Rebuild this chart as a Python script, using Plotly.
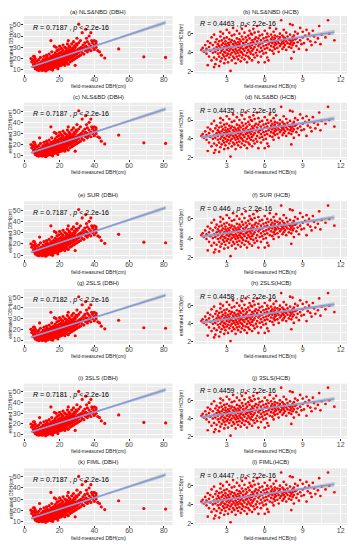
import plotly.graph_objects as go

# ---------------- data ----------------
panel_titles = ["(a) NLS&amp;NBD (DBH)", "(b) NLS&amp;NBD (HCB)",
                "(c) NLS&amp;BD (DBH)", "(d) NLS&amp;BD (HCB)",
                "(e) SUR (DBH)", "(f) SUR (HCB)",
                "(g) 2SLS (DBH)", "(h) 2SLS(HCB)",
                "(i) 3SLS (DBH)", "(j) 3SLS(HCB)",
                "(k) FIML (DBH)", "(l) FIML(HCB)"]
r_values = ["0.7187", "0.4463", "0.7187", "0.4435", "0.7187", "0.446",
            "0.7182", "0.4458", "0.7181", "0.4459", "0.7187", "0.4447"]
p_text = "2.2e-16"

dbh_points = [
    (4, 17), (4.5, 19), (5, 13), (5, 15), (5.5, 22), (5.5, 18), (6, 11), (6, 14), (6, 16), (6.5, 12), (6, 20),
    (3.5, 20), (5, 22),
    (7, 10), (7, 13), (7.5, 15), (7, 18), (8, 11), (8, 12.5), (8, 14), (8, 16), (8.5, 26), (8, 19), (9, 10),
    (9, 12), (9, 13.5), (9, 15), (9.5, 17), (9, 21), (9.5, 11), (8, 9.5),
    (10, 9.5), (10, 11), (10, 12.5), (10, 14), (10.5, 15.5), (10, 17), (10.5, 19), (11, 10), (11, 12), (11, 13),
    (11.5, 14.5), (11, 16), (11.5, 18), (11, 22), (12, 10.5), (12, 11.5), (12, 13), (12, 14), (12.5, 15),
    (12, 16.5), (12.5, 18), (12, 20), (12.5, 23), (12, 9),
    (13, 10), (13, 12), (13, 13.5), (13, 15), (13.5, 16), (13, 17.5), (13.5, 19), (13, 21), (14, 11), (14, 12.5),
    (14, 14), (14, 15), (14.5, 16.5), (14, 18), (14.5, 20), (14, 24), (15, 10.5), (15, 12), (15, 13.5), (15, 15),
    (15, 16), (15.5, 17), (15, 18.5), (15.5, 20), (15, 22), (15, 36), (15.5, 26), (13.5, 11), (14.5, 13),
    (16, 11), (16, 13), (16, 14.5), (16, 16), (16.5, 17), (16, 18), (16.5, 19.5), (16, 21), (16.5, 23), (17, 12),
    (17, 14), (17, 15.5), (17, 17), (17.5, 18), (17, 19), (17.5, 20.5), (17, 22), (17, 31), (17.5, 25), (18, 12.5),
    (18, 14), (18, 15.5), (18, 17), (18.5, 18), (18, 19.5), (18.5, 21), (18, 23), (18.5, 27), (18, 30), (16, 9.8),
    (16.5, 12), (17.5, 13), (18.5, 16),
    (19, 13), (19, 15), (19, 16.5), (19, 18), (19.5, 19), (19, 20.5), (19.5, 22), (19, 24), (19.5, 28), (20, 13.5),
    (20, 15), (20, 17), (20, 18.5), (20.5, 20), (20, 21), (20.5, 22.5), (20, 25), (20, 31), (21, 14), (21, 16),
    (21, 17.5), (21, 19), (21.5, 20.5), (21, 22), (21.5, 24), (21, 26), (21, 29), (19, 11), (20.5, 16), (21.5, 18),
    (22, 15), (22, 17), (22, 18.5), (22, 20), (22.5, 21.5), (22, 23), (22.5, 25), (22, 27.5), (22, 32), (23, 14),
    (23, 16.5), (23, 19), (23, 21), (23.5, 22.5), (23, 24), (23.5, 26), (23, 30), (24, 16), (24, 18), (24, 20),
    (24.5, 22), (24, 23.5), (24.5, 25), (24, 27), (24, 29), (24.5, 33), (22.5, 19.5), (23.5, 18),
    (25, 15), (25, 19), (25, 21), (25, 23), (25.5, 24.5), (25, 26), (25.5, 28), (25, 36), (25.5, 31), (26, 17),
    (26, 20), (26, 22), (26.5, 24), (26, 25.5), (26.5, 27), (26, 30), (27, 18), (27, 21), (27, 23.5), (27.5, 25),
    (27, 27), (27.5, 29), (27, 33),
    (28, 19), (28, 22), (28, 24), (28.5, 26), (28, 28), (28.5, 31), (28, 35), (29, 14), (29, 20), (29, 23),
    (29.5, 25), (29, 27), (29, 30), (29.5, 33), (30, 21), (30, 24), (30, 26), (30.5, 28), (30, 32), (30, 38),
    (31, 50.5), (31, 22), (31, 25.5), (31.5, 29), (31, 34),
    (32, 23), (32, 27), (32.5, 30), (32, 36), (33, 25), (33, 28), (33.5, 32), (33, 43), (34, 24), (34, 29),
    (34.5, 34), (35, 27), (35, 31), (35, 46), (35.5, 38), (36, 26), (36, 30), (36, 35), (36.5, 28),
    (37, 29), (37, 33), (37, 40), (38, 27), (38, 31), (38, 43), (38.5, 36), (39, 30), (39, 34), (40, 28),
    (40, 32), (40, 36), (41, 30), (41, 35), (41, 33),
    (42, 27), (43, 26), (44, 23), (46, 20.5), (54, 28.5), (68.5, 21.5), (81, 21),
]

hcb_points = [
    (1.0, 4.3), (1.1, 4.5), (1.2, 4.1), (1.3, 4.8), (1.4, 3.9), (1.5, 2.7), (1.5, 5.2), (1.4, 4.4),
    (1.6, 3.6), (1.6, 4.6), (1.7, 5.0), (1.7, 4.2), (1.8, 3.2), (1.8, 5.6), (1.9, 4.0), (1.9, 4.8), (2.0, 2.5),
    (2.0, 3.5), (2.0, 4.4), (2.0, 5.9),
    (2.1, 2.8), (2.1, 4.1), (2.1, 5.1), (2.2, 3.3), (2.2, 4.6), (2.2, 5.4), (2.3, 3.9), (2.3, 4.3), (2.3, 4.9),
    (2.4, 2.6), (2.4, 3.6), (2.4, 4.7), (2.4, 5.2), (2.5, 3.1), (2.5, 4.0), (2.5, 4.5), (2.5, 5.7), (2.5, 6.2),
    (2.6, 3.4), (2.6, 4.2), (2.6, 4.8), (2.6, 5.3), (2.7, 3.8), (2.7, 4.4), (2.7, 5.0), (2.7, 6.0), (2.8, 2.9),
    (2.8, 3.6), (2.8, 4.1), (2.8, 4.6), (2.8, 5.5), (2.9, 3.3), (2.9, 4.0), (2.9, 4.9), (2.9, 5.2), (3.0, 3.7),
    (3.0, 4.3), (3.0, 4.7), (3.0, 5.6), (3.0, 6.4),
    (3.1, 3.0), (3.1, 3.9), (3.1, 4.5), (3.1, 5.0), (3.2, 3.5), (3.2, 4.2), (3.2, 4.8), (3.2, 5.4), (3.2, 6.1),
    (3.3, 2.1), (3.3, 3.8), (3.3, 4.4), (3.3, 5.1), (3.4, 3.2), (3.4, 4.0), (3.4, 4.6), (3.4, 5.3), (3.4, 5.8),
    (3.5, 3.6), (3.5, 4.3), (3.5, 4.9), (3.5, 6.6),
    (3.6, 3.4), (3.6, 4.1), (3.6, 4.7), (3.6, 5.2), (3.6, 5.9), (3.7, 2.9), (3.7, 3.9), (3.7, 4.4), (3.7, 5.0),
    (3.8, 3.6), (3.8, 4.2), (3.8, 4.8), (3.8, 5.5), (3.8, 6.3), (3.9, 3.3), (3.9, 4.0), (3.9, 4.6), (3.9, 5.1),
    (4.0, 3.7), (4.0, 4.3), (4.0, 4.9), (4.0, 5.4), (4.0, 6.0),
    (4.1, 3.1), (4.1, 4.1), (4.1, 4.5), (4.1, 5.2), (4.2, 3.5), (4.2, 4.0), (4.2, 4.7), (4.2, 5.7), (4.2, 6.5),
    (4.3, 3.8), (4.3, 4.4), (4.3, 5.0), (4.3, 5.4), (4.4, 3.3), (4.4, 4.2), (4.4, 4.8), (4.4, 6.1), (4.5, 3.7),
    (4.5, 4.5), (4.5, 5.1), (4.5, 5.6), (4.5, 6.8),
    (4.6, 3.0), (4.6, 4.0), (4.6, 4.6), (4.6, 5.3), (4.7, 3.6), (4.7, 4.3), (4.7, 4.9), (4.7, 5.8), (4.8, 3.4),
    (4.8, 4.1), (4.8, 4.7), (4.8, 5.5), (4.8, 6.3), (4.9, 3.9), (4.9, 4.5), (4.9, 5.0), (4.9, 6.0), (5.0, 3.2),
    (5.0, 4.2), (5.0, 4.8), (5.0, 5.3), (5.0, 5.9),
    (5.1, 3.8), (5.1, 4.4), (5.1, 5.1), (5.1, 6.5), (5.2, 3.5), (5.2, 4.6), (5.2, 5.4), (5.2, 6.1), (5.3, 4.0),
    (5.3, 4.9), (5.3, 5.6), (5.4, 3.7), (5.4, 4.3), (5.4, 5.2), (5.4, 6.8), (5.5, 3.0), (5.5, 4.7), (5.5, 5.5),
    (5.5, 6.2),
    (5.6, 4.1), (5.6, 4.9), (5.6, 5.8), (5.7, 3.6), (5.7, 4.5), (5.7, 5.3), (5.8, 4.2), (5.8, 5.0), (5.8, 5.9),
    (5.9, 3.9), (5.9, 4.7), (5.9, 5.5), (6.0, 3.0), (6.0, 4.4), (6.0, 5.2), (6.0, 6.3),
    (6.1, 4.0), (6.1, 4.8), (6.1, 5.6), (6.2, 3.5), (6.2, 4.5), (6.2, 5.3), (6.2, 6.0), (6.3, 3.2), (6.3, 4.9),
    (6.3, 5.7), (6.4, 4.3), (6.4, 5.1), (6.4, 6.6), (6.5, 4.7), (6.5, 5.4), (6.5, 5.9),
    (6.6, 4.2), (6.6, 5.0), (6.6, 5.6), (6.7, 3.9), (6.7, 4.6), (6.7, 5.3), (6.7, 6.2), (6.8, 4.4), (6.8, 4.8),
    (6.8, 5.1), (6.8, 5.5), (6.8, 5.8), (6.9, 4.9), (6.9, 6.5), (7.0, 4.5), (7.0, 5.2), (7.0, 5.7),
    (7.1, 4.1), (7.1, 5.0), (7.1, 5.4), (7.2, 4.7), (7.2, 5.6), (7.2, 6.0), (7.3, 7.4), (7.3, 4.9), (7.3, 5.3),
    (7.4, 4.4), (7.4, 5.1), (7.4, 5.8), (7.5, 4.6), (7.5, 5.0), (7.5, 5.3), (7.5, 5.6), (7.5, 6.4),
    (7.6, 4.8), (7.6, 5.5), (7.7, 4.3), (7.7, 5.2), (7.7, 6.1), (7.8, 5.0), (7.8, 5.7), (7.9, 4.6), (7.9, 5.4),
    (8.0, 4.9), (8.0, 5.3), (8.0, 5.9), (8.0, 7.0),
    (8.1, 3.4), (8.1, 4.5), (8.1, 5.1), (8.2, 4.8), (8.2, 5.3), (8.2, 5.6), (8.2, 6.9), (8.3, 4.1), (8.3, 5.0),
    (8.3, 5.8), (8.4, 5.4), (8.4, 6.2), (8.5, 4.7), (8.5, 5.5),
    (8.6, 5.1), (8.6, 6.0), (8.7, 4.4), (8.8, 5.3), (8.8, 6.6), (8.9, 4.9), (9.0, 5.6), (9.0, 6.2), (9.1, 5.0),
    (9.2, 5.8), (9.3, 4.3), (9.3, 6.4), (9.4, 5.4), (9.5, 6.0),
    (9.6, 5.2), (9.7, 4.8), (9.8, 6.3), (9.9, 5.7), (10.0, 5.1), (10.2, 5.5), (10.3, 6.8), (10.4, 4.9),
    (10.5, 5.9), (10.8, 5.6), (11.0, 7.4), (11.1, 6.0), (11.5, 5.3),
]

# fitted lines
dbh_fit_intercept, dbh_fit_slope = 10.7, 0.51
dbh_fit_x = [3.5, 81]
dbh_band_x = [3.5, 20, 40, 60, 81]
dbh_band_hw = [0.7, 0.35, 0.6, 1.2, 1.8]

hcb_fit_intercept, hcb_fit_slope = 3.96, 0.19
hcb_fit_x = [1.0, 11.5]
hcb_band_x = [1.0, 4.5, 8.0, 11.5]
hcb_band_hw = [0.2, 0.08, 0.12, 0.25]

dbh_xticks = [0, 20, 40, 60, 80]
dbh_yticks = [10, 20, 30, 40, 50]
hcb_xticks = [3, 6, 9, 12]
hcb_yticks = [2, 4, 6]

# ---------------- layout geometry ----------------
# the page body has an 8px margin, so the figure is sized to fit the window
OFF = 8
W, H = 355 - OFF, 550 - OFF
row_px = [(16, 74), (103, 160), (202, 260), (290, 345), (385, 440), (470, 527)]
col_px = [(23, 172), (194, 347)]

BG = "#EBEBEB"
TICKC = "#4D4D4D"
FONT = "Liberation Sans, Arial, sans-serif"


def fx_(p):  # window pixel x -> paper fraction
    return (p - OFF) / W


def fy_(p):  # window pixel y -> paper fraction
    return 1 - (p - OFF) / H


fig = go.Figure()
layout = dict(width=W, height=H, margin=dict(l=0, r=0, t=0, b=0), autosize=False,
              paper_bgcolor="white", plot_bgcolor=BG, showlegend=False,
              font=dict(family=FONT, color="black"))
annotations = []

for i in range(12):
    row, col = divmod(i, 2)
    idx = i + 1
    xa = "x" if idx == 1 else f"x{idx}"
    ya = "y" if idx == 1 else f"y{idx}"
    xkey = "xaxis" if idx == 1 else f"xaxis{idx}"
    ykey = "yaxis" if idx == 1 else f"yaxis{idx}"
    top, bot = row_px[row]
    left, right = col_px[col]
    xdom = [fx_(left), fx_(right)]
    ydom = [fy_(bot), fy_(top)]

    if col == 0:
        pts = dbh_points
        b0, b1 = dbh_fit_intercept, dbh_fit_slope
        fx, bx, bhw = dbh_fit_x, dbh_band_x, dbh_band_hw
        xr, yr = [-0.5, 85], [6.5, 57.8]
        xt, yt = dbh_xticks, dbh_yticks
        xminor, yminor = 10, 5
        xtitle, ytitle = "field-measured DBH(cm)", "estimated DBH(cm)"
        ann_x, ann_y = 3.5, 47.3
        msize = 3.2
    else:
        pts = hcb_points
        b0, b1 = hcb_fit_intercept, hcb_fit_slope
        fx, bx, bhw = hcb_fit_x, hcb_band_x, hcb_band_hw
        xr, yr = [0.45, 12.5], [1.8, 7.85]
        xt, yt = hcb_xticks, hcb_yticks
        xminor, yminor = 1.5, 1
        xtitle, ytitle = "field-measured HCB(m)", "estimated HCB(m)"
        ann_x, ann_y = 0.72, 7.0
        msize = 2.7

    px = [p[0] for p in pts]
    py = [p[1] for p in pts]

    fig.add_trace(go.Scatter(x=px, y=py, mode="markers", xaxis=xa, yaxis=ya,
                             marker=dict(color="#FF0000", size=msize, line=dict(width=0)),
                             hoverinfo="skip"))
    up = [b0 + b1 * x + h for x, h in zip(bx, bhw)]
    lo = [b0 + b1 * x - h for x, h in zip(bx, bhw)]
    fig.add_trace(go.Scatter(x=bx + bx[::-1], y=up + lo[::-1], mode="lines", fill="toself",
                             fillcolor="rgba(153,153,153,0.45)", line=dict(width=0),
                             xaxis=xa, yaxis=ya, hoverinfo="skip"))
    fig.add_trace(go.Scatter(x=fx, y=[b0 + b1 * x for x in fx], mode="lines",
                             line=dict(color="#859BDD", width=1.6), xaxis=xa, yaxis=ya,
                             hoverinfo="skip"))

    layout[xkey] = dict(domain=xdom, range=xr, anchor=ya, tickvals=xt, showgrid=True,
                        gridcolor="white", gridwidth=1, zeroline=False, showline=False,
                        ticks="outside", ticklen=2, tickcolor="#333333", tickwidth=0.8,
                        ticklabelstandoff=-3,
                        tickfont=dict(size=7, color=TICKC, family=FONT),
                        minor=dict(dtick=xminor, tick0=0, showgrid=True, gridcolor="#F7F7F7",
                                   gridwidth=0.5, ticks=""),
                        fixedrange=True)
    layout[ykey] = dict(domain=ydom, range=yr, anchor=xa, tickvals=yt, showgrid=True,
                        gridcolor="white", gridwidth=1, zeroline=False, showline=False,
                        ticks="outside", ticklen=2, tickcolor="#333333", tickwidth=0.8,
                        ticklabelstandoff=-1,
                        tickfont=dict(size=7, color=TICKC, family=FONT),
                        minor=dict(dtick=yminor, tick0=0, showgrid=True, gridcolor="#F7F7F7",
                                   gridwidth=0.5, ticks=""),
                        fixedrange=True)

    # panel title (top row is pinned to the figure's top edge so it is not clipped)
    if row == 0:
        t_y, t_anchor = fy_(OFF + 0.5), "top"
    else:
        t_y, t_anchor = fy_(top - 2), "bottom"
    annotations.append(dict(text=panel_titles[i], xref="paper", yref="paper",
                            x=fx_((left + right) / 2), y=t_y, borderpad=0,
                            xanchor="center", yanchor=t_anchor, showarrow=False,
                            font=dict(size=6, color="#222222", family=FONT)))
    # x axis title
    annotations.append(dict(text=xtitle, xref="paper", yref="paper",
                            x=fx_((left + right) / 2), y=fy_(bot + 12.5),
                            xanchor="center", yanchor="middle", showarrow=False,
                            font=dict(size=5, color="#222222", family=FONT)))
    # y axis title
    annotations.append(dict(text=ytitle, xref="paper", yref="paper",
                            x=fx_(left - 13.5), y=fy_((top + bot) / 2),
                            xanchor="center", yanchor="middle", showarrow=False, textangle=-90,
                            font=dict(size=5, color="#222222", family=FONT)))
    # R / p annotation
    annotations.append(dict(text=f"<i>R</i> = {r_values[i]} , <i>p</i> &lt; {p_text}",
                            xref=xa, yref=ya, x=ann_x, y=ann_y, xanchor="left",
                            yanchor="middle", showarrow=False,
                            font=dict(size=7, color="black", family=FONT)))

layout["annotations"] = annotations
fig.update_layout(**layout)
fig.write_html("out.html")
